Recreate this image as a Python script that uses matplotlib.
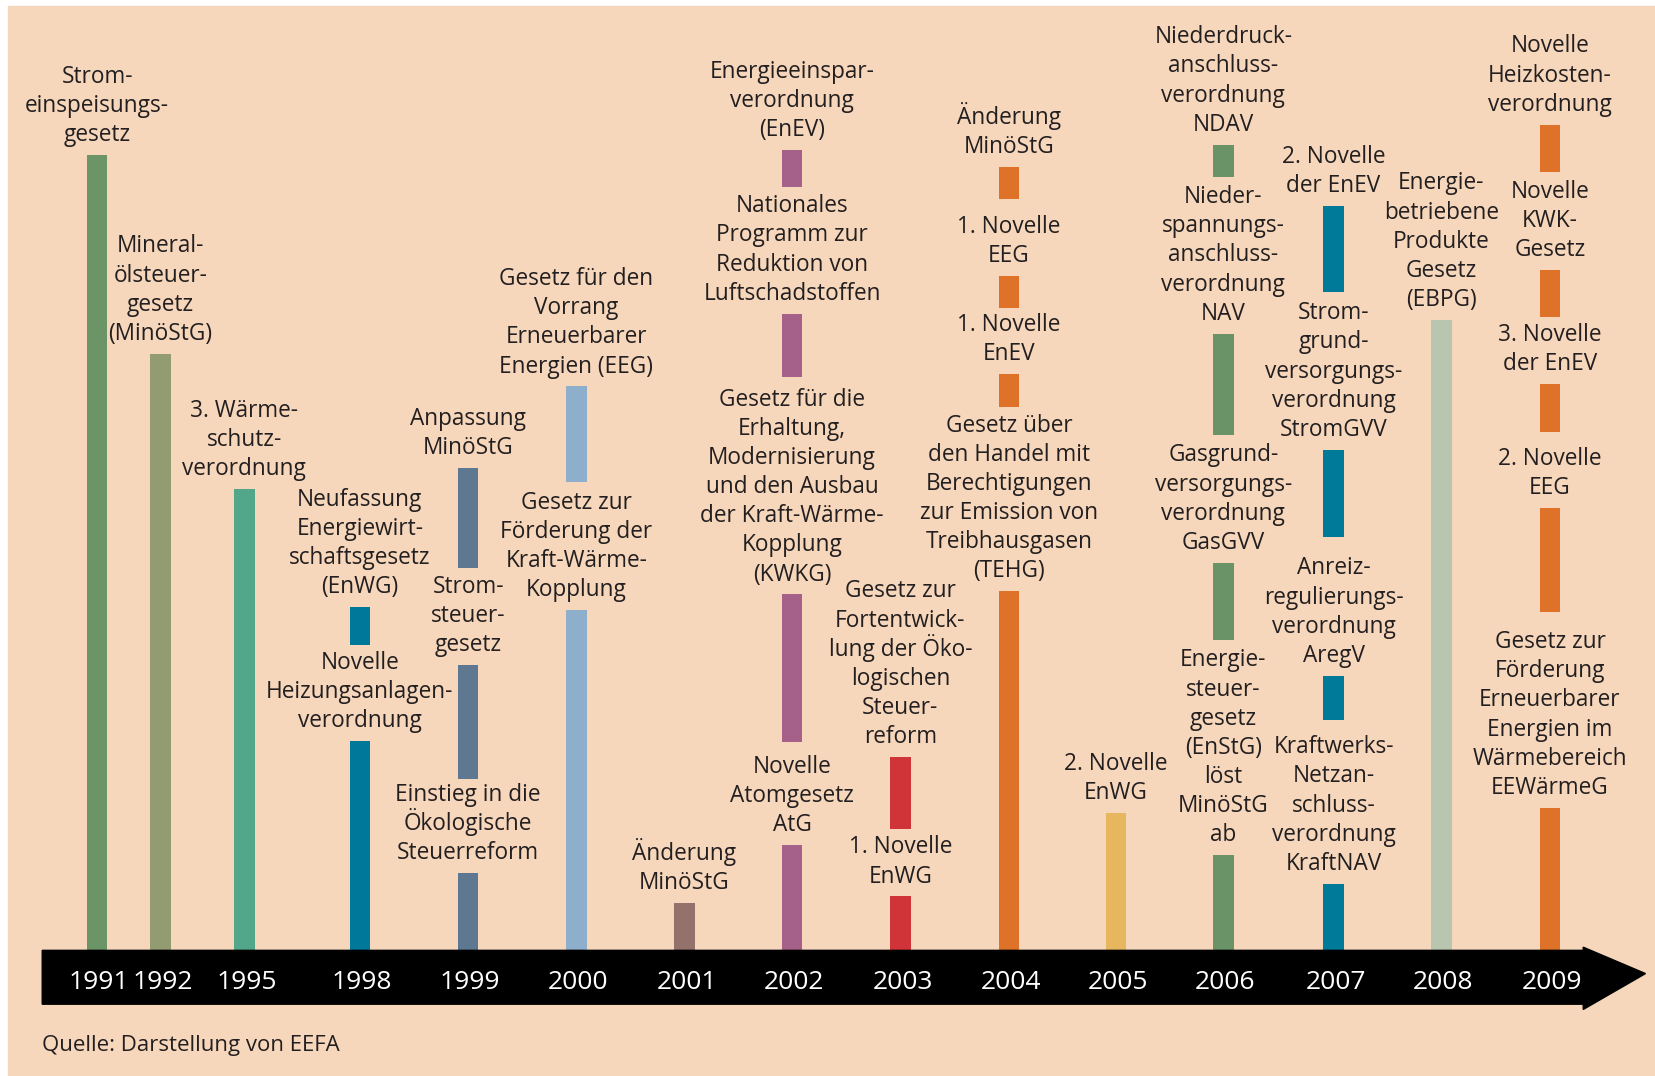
import matplotlib.pyplot as plt
from matplotlib.patches import Rectangle

plt.rcParams["font.family"] = ["Open Sans", "DejaVu Sans"]

# years on the time arrow and their colours
years = ["1991", "1992", "1995", "1998", "1999", "2000", "2001", "2002",
         "2003", "2004", "2005", "2006", "2007", "2008", "2009"]
year_colors = ["#6B9467", "#939B70", "#52A78B", "#00789A", "#5E7892",
               "#8DAFCB", "#94716A", "#A6618A", "#D13438", "#DF7229",
               "#E6B75E", "#6A9467", "#007A99", "#B8C6AF", "#DE7229"]

# one entry per law: year, lower and upper end of its bar, label
ev_year = ["1991", "1992", "1995",
           "1998", "1998",
           "1999", "1999", "1999",
           "2000", "2000",
           "2001",
           "2002", "2002", "2002", "2002",
           "2003", "2003",
           "2004", "2004", "2004", "2004",
           "2005",
           "2006", "2006", "2006", "2006",
           "2007", "2007", "2007", "2007",
           "2008",
           "2009", "2009", "2009", "2009", "2009"]
ev_low = [0, 0, 0,
          289, 0,
          362, 162, 0,
          444, 0,
          0,
          723, 543, 197, 0,
          115, 0,
          712, 608, 515, 0,
          0,
          732, 488, 294, 0,
          623, 391, 218, 0,
          0,
          737, 600, 491, 320, 0]
ev_high = [753, 565, 437,
           325, 198,
           457, 270, 73,
           534, 322,
           45,
           758, 603, 337, 100,
           183, 51,
           742, 639, 546, 340,
           130,
           763, 584, 367, 90,
           705, 474, 260, 63,
           597,
           782, 644, 536, 419, 135]
ev_label = [
    "Strom-\neinspeisungs-\ngesetz",
    "Mineral-\nölsteuer-\ngesetz\n(MinöStG)",
    "3. Wärme-\nschutz-\nverordnung",
    "Neufassung\nEnergiewirt-\nschaftsgesetz\n(EnWG)",
    "Novelle\nHeizungsanlagen-\nverordnung",
    "Anpassung\nMinöStG",
    "Strom-\nsteuer-\ngesetz",
    "Einstieg in die\nÖkologische\nSteuerreform",
    "Gesetz für den\nVorrang\nErneuerbarer\nEnergien (EEG)",
    "Gesetz zur\nFörderung der\nKraft-Wärme-\nKopplung",
    "Änderung\nMinöStG",
    "Energieeinspar-\nverordnung\n(EnEV)",
    "Nationales\nProgramm zur\nReduktion von\nLuftschadstoffen",
    "Gesetz für die\nErhaltung,\nModernisierung\nund den Ausbau\nder Kraft-Wärme-\nKopplung\n(KWKG)",
    "Novelle\nAtomgesetz\nAtG",
    "Gesetz zur\nFortentwick-\nlung der Öko-\nlogischen\nSteuer-\nreform",
    "1. Novelle\nEnWG",
    "Änderung\nMinöStG",
    "1. Novelle\nEEG",
    "1. Novelle\nEnEV",
    "Gesetz über\nden Handel mit\nBerechtigungen\nzur Emission von\nTreibhausgasen\n(TEHG)",
    "2. Novelle\nEnWG",
    "Niederdruck-\nanschluss-\nverordnung\nNDAV",
    "Nieder-\nspannungs-\nanschluss-\nverordnung\nNAV",
    "Gasgrund-\nversorgungs-\nverordnung\nGasGVV",
    "Energie-\nsteuer-\ngesetz\n(EnStG)\nlöst\nMinöStG\nab",
    "2. Novelle\nder EnEV",
    "Strom-\ngrund-\nversorgungs-\nverordnung\nStromGVV",
    "Anreiz-\nregulierungs-\nverordnung\nAregV",
    "Kraftwerks-\nNetzan-\nschluss-\nverordnung\nKraftNAV",
    "Energie-\nbetriebene\nProdukte\nGesetz\n(EBPG)",
    "Novelle\nHeizkosten-\nverordnung",
    "Novelle\nKWK-\nGesetz",
    "3. Novelle\nder EnEV",
    "2. Novelle\nEEG",
    "Gesetz zur\nFörderung\nErneuerbarer\nEnergien im\nWärmebereich\nEEWärmeG",
]

source = "Quelle: Darstellung von EEFA"

# layout: x slot of each year on the arrow (not evenly spaced in the original)
year_pos = [92, 152, 231.5, 341, 443.5, 546, 648.5, 750.5, 853, 956,
            1057.5, 1159, 1263.5, 1365.5, 1468.5]
bg = "#F6D7BB"
txt = "#231F20"
line_step = 21     # points between baselines
gap = 10           # points from bar top to last baseline

fig = plt.figure(figsize=(16.55, 10.76), dpi=100)
fig.patch.set_facecolor("white")
ax = fig.add_axes([0, 0, 1, 1])
ax.set_xlim(0, 1568)
ax.set_ylim(-119, 900)
ax.axis("off")

ax.add_patch(Rectangle((7.5, -119), 1570, 1013, color=bg, zorder=0))

pos = dict(zip(years, year_pos))
col = dict(zip(years, year_colors))
xs = [pos[y] for y in ev_year]
ax.bar(xs, [h - l for l, h in zip(ev_low, ev_high)], bottom=ev_low,
       width=19.5, color=[col[y] for y in ev_year], zorder=2)

# labels line by line so accented capitals don't stretch the spacing
for x, top, lab in zip(xs, ev_high, ev_label):
    lines = lab.split("\n")
    n = len(lines)
    for i, line in enumerate(lines):
        ax.annotate(line, (x, top), xytext=(0, gap + (n - 1 - i) * line_step),
                    textcoords="offset points", ha="center", va="baseline",
                    fontsize=16.3, color=txt, zorder=3)

# time arrow
ax.fill([40, 1500, 1500, 1559, 1500, 1500, 40],
        [0, 0, 3, -22, -56, -51, -51], color="black", zorder=2)
for y, x in zip(years, year_pos):
    ax.text(x + 2, -30, y, ha="center", va="center", fontsize=19,
            color="white", zorder=3)

ax.text(40, -90, source, ha="left", va="center", fontsize=16, color=txt)

fig.savefig("out.png", dpi=100, facecolor="white")
